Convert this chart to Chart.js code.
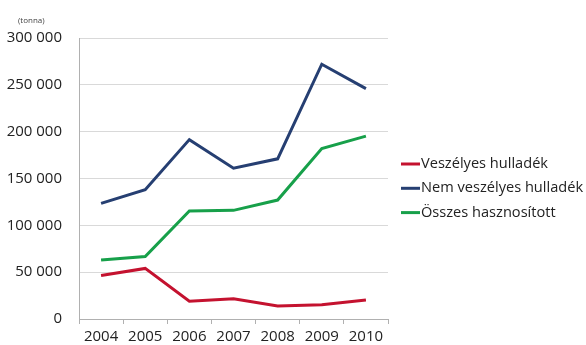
<!DOCTYPE html>
<html>
<head>
<meta charset="utf-8">
<script src="https://cdn.jsdelivr.net/npm/chart.js@4/dist/chart.umd.min.js"></script>
<style>
  html, body { margin: 0; padding: 0; background: #fff; }
  #wrap { width: 586px; height: 345px; position: relative; }
</style>
</head>
<body>
<div id="wrap"><canvas id="chart"></canvas></div>
<script>
// ---- Données ----
const evek = ['2004', '2005', '2006', '2007', '2008', '2009', '2010']
const veszelyes = [46500, 54000, 19000, 21500, 14000, 15300, 20300]
const nemVeszelyes = [123500, 138000, 191500, 161000, 171000, 272000, 246000]
const hasznositott = [63000, 66700, 115300, 116000, 127000, 182000, 195300]
const yTicks = [0, 50000, 100000, 150000, 200000, 250000, 300000]

const police = '"Open Sans", "Liberation Sans", sans-serif'

// nombre avec espace : 300 000
const fmt = v => v === 0 ? '0' : String(v).replace(/\B(?=(\d{3})+(?!\d))/g, ' ')

// légende + "(tonna)" dessinées à la main
const legendePerso = {
  id: 'legendePerso',
  afterDraw(chart) {
    const ctx = chart.ctx
    ctx.save()
    ctx.fillStyle = '#444'
    ctx.font = '8px ' + police
    ctx.textBaseline = 'middle'
    ctx.textAlign = 'left'
    ctx.fillText('(tonna)', 18, 21)

    ctx.font = '14.6px ' + police
    chart.data.datasets.forEach((ds, i) => {
      const y = 164 + i * 24.3
      ctx.strokeStyle = ds.borderColor
      ctx.lineWidth = 3
      ctx.beginPath()
      ctx.moveTo(401, y)
      ctx.lineTo(420, y)
      ctx.stroke()
      ctx.fillStyle = '#222'
      ctx.fillText(ds.label, 421, y)
    })
    ctx.restore()
  }
}

new Chart(document.getElementById('chart'), {
  type: 'line',
  data: {
    labels: evek,
    datasets: [
      { label: 'Veszélyes hulladék', data: veszelyes, borderColor: '#c4122f' },
      { label: 'Nem veszélyes hulladék', data: nemVeszelyes, borderColor: '#263f72' },
      { label: 'Összes hasznosított', data: hasznositott, borderColor: '#17a04a' }
    ]
  },
  options: {
    responsive: true,
    maintainAspectRatio: false,
    animation: false,
    layout: { padding: { left: 7, right: 198, top: 38, bottom: 0 } },
    elements: {
      line: { borderWidth: 3, tension: 0 },
      point: { radius: 0 }
    },
    plugins: {
      legend: { display: false },
      tooltip: { enabled: false }
    },
    scales: {
      x: {
        offset: true,
        afterFit: axis => { axis.height = 26 },
        grid: { display: true, drawOnChartArea: false, color: '#b0b0b0', tickLength: 5, offset: true },
        border: { color: '#b0b0b0' },
        ticks: { color: '#222', font: { family: police, size: 15 }, padding: 4, maxRotation: 0 }
      },
      y: {
        min: 0,
        max: 300000,
        afterBuildTicks: axis => { axis.ticks = yTicks.map(v => ({ value: v })) },
        afterFit: axis => { axis.width = 72 },
        grid: { color: '#d9d9d9', drawTicks: false },
        border: { color: '#b0b0b0' },
        ticks: { color: '#222', font: { family: police, size: 15 }, padding: 17, callback: v => fmt(v) }
      }
    }
  },
  plugins: [legendePerso]
})
</script>
</body>
</html>
